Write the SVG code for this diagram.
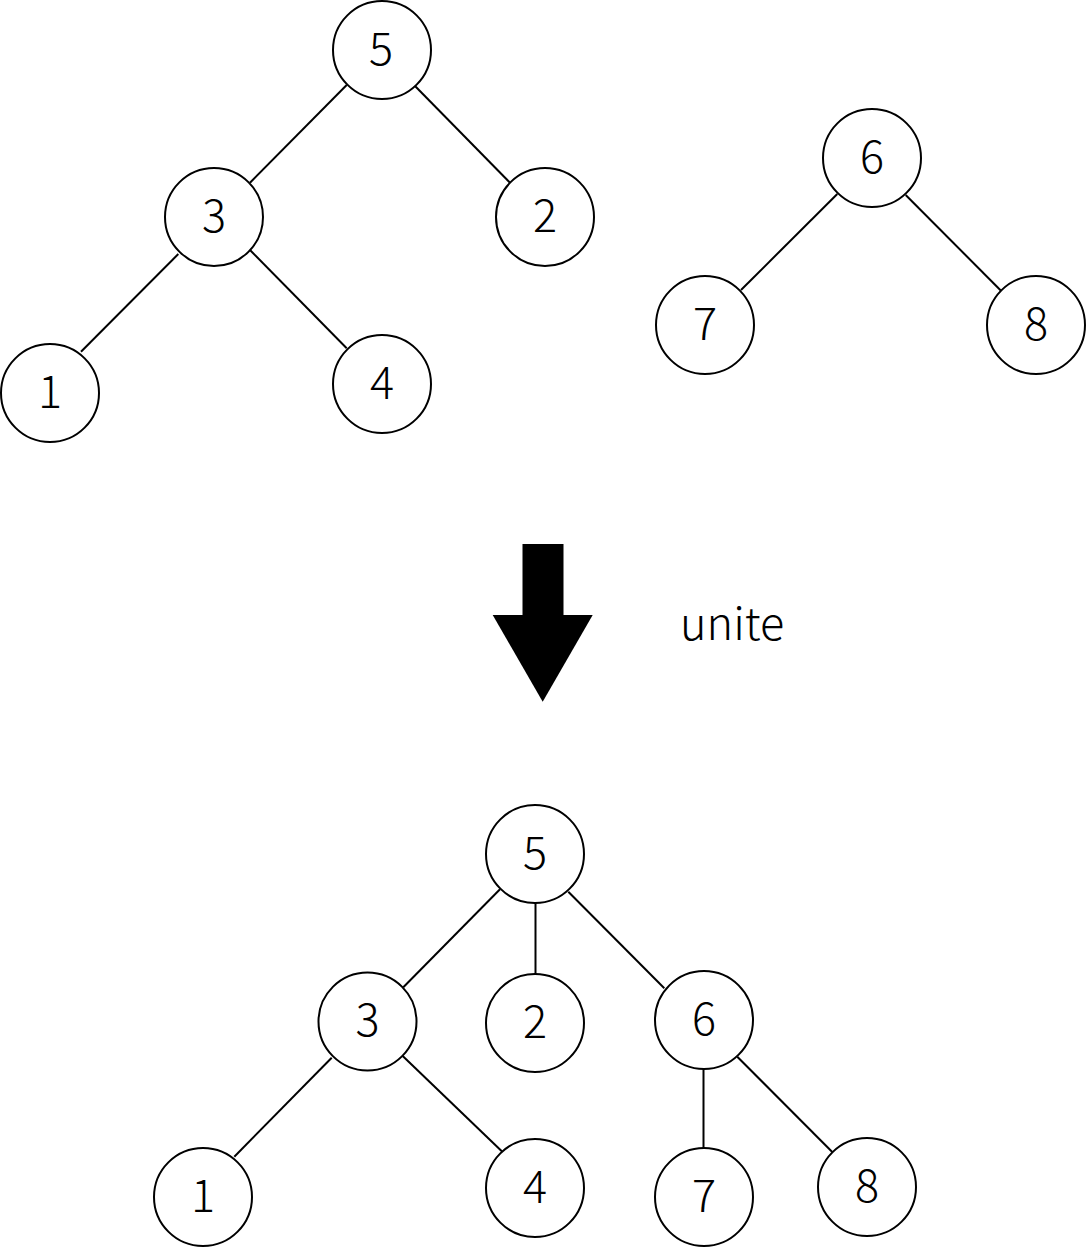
<svg xmlns="http://www.w3.org/2000/svg" width="1086" height="1248" viewBox="0 0 1086 1248">
<style>
.n circle{fill:#fff;stroke:#000;stroke-width:2}
.n text{font-family:"Noto Sans CJK JP","Noto Sans",sans-serif;font-size:45px;font-weight:300;text-anchor:middle;fill:#000}
.e line{stroke:#000;stroke-width:2}
.lbl{font-family:"Noto Sans CJK JP","Noto Sans",sans-serif;font-size:45px;font-weight:300;fill:#000}
</style>
<rect width="1086" height="1248" fill="#fff"/>
<g id="connectors" class="e">
<line x1="346.7" y1="85" x2="250" y2="182.7"/>
<line x1="415" y1="86" x2="510" y2="182.7"/>
<line x1="178.3" y1="254" x2="81" y2="351.7"/>
<line x1="250" y1="250" x2="346.7" y2="348.3"/>
<line x1="837.3" y1="194" x2="741" y2="290"/>
<line x1="905.7" y1="195" x2="1001" y2="290.7"/>
<line x1="500" y1="889.3" x2="403.3" y2="987.3"/>
<line x1="535.5" y1="899" x2="535.5" y2="978"/>
<line x1="568.3" y1="891.7" x2="664.3" y2="988.3"/>
<line x1="331.7" y1="1057.7" x2="234.3" y2="1156.7"/>
<line x1="402.7" y1="1056" x2="503.9" y2="1153.3"/>
<line x1="703.5" y1="1068" x2="703.5" y2="1148.3"/>
<line x1="737.3" y1="1056.7" x2="833" y2="1152.7"/>
</g>
<g id="t1-5" class="n"><circle cx="382" cy="50" r="49"/><text x="381" y="64.5">5</text></g>
<g id="t1-3" class="n"><circle cx="214" cy="217" r="49"/><text x="214" y="231.5">3</text></g>
<g id="t1-2" class="n"><circle cx="545" cy="217" r="49"/><text x="545" y="231.5">2</text></g>
<g id="t1-1" class="n"><circle cx="50" cy="393" r="49"/><text x="50" y="407.5">1</text></g>
<g id="t1-4" class="n"><circle cx="382" cy="384" r="49"/><text x="382" y="398.5">4</text></g>
<g id="t2-6" class="n"><circle cx="872" cy="158" r="49"/><text x="872" y="172.5">6</text></g>
<g id="t2-7" class="n"><circle cx="705" cy="325" r="49"/><text x="705" y="339.5">7</text></g>
<g id="t2-8" class="n"><circle cx="1036" cy="325" r="49"/><text x="1036" y="339.5">8</text></g>
<g id="arrow">
<rect x="522.5" y="544" width="41" height="72" fill="#000"/>
<polygon points="492.7,615 592.7,615 542.7,701.7" fill="#000"/>
</g>
<text id="unite" class="lbl" x="680" y="640">unite</text>
<g id="u-5" class="n"><circle cx="535" cy="854" r="49"/><text x="535" y="868.5">5</text></g>
<g id="u-3" class="n"><circle cx="367.5" cy="1021.5" r="49"/><text x="367.5" y="1036">3</text></g>
<g id="u-2" class="n"><circle cx="535" cy="1023" r="49"/><text x="535" y="1037.5">2</text></g>
<g id="u-6" class="n"><circle cx="704" cy="1020" r="49"/><text x="704" y="1034.5">6</text></g>
<g id="u-1" class="n"><circle cx="203" cy="1197" r="49"/><text x="203" y="1211.5">1</text></g>
<g id="u-4" class="n"><circle cx="535" cy="1188" r="49"/><text x="535" y="1202.5">4</text></g>
<g id="u-7" class="n"><circle cx="704" cy="1197" r="49"/><text x="704" y="1211.5">7</text></g>
<g id="u-8" class="n"><circle cx="867" cy="1187" r="49"/><text x="867" y="1201.5">8</text></g>
</svg>
